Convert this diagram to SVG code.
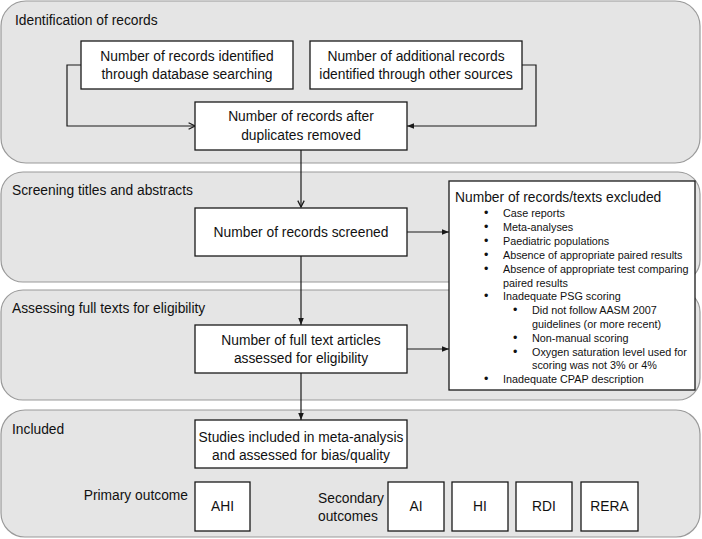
<svg xmlns="http://www.w3.org/2000/svg" width="702" height="539" viewBox="0 0 702 539">
<defs>
<style>
.panel{fill:#e5e5e5;stroke:#9a9a9a;stroke-width:1.2}
.box{fill:#ffffff;stroke:#1a1a1a;stroke-width:1.3}
.t{font-family:"Liberation Sans",Arial,sans-serif;font-size:13.8px;fill:#111}
.c{text-anchor:middle}
.l{font-family:"Liberation Sans",Arial,sans-serif;font-size:10.8px;fill:#111}
.b{font-size:12.5px}
.conn{fill:none;stroke:#1a1a1a;stroke-width:1.2}
</style>
<marker id="ah" viewBox="0 0 10 10" refX="10" refY="5" markerWidth="7" markerHeight="7" orient="auto" markerUnits="userSpaceOnUse">
<path d="M0,1 L10,5 L0,9 Z" fill="#1a1a1a"/>
</marker>
<marker id="av" viewBox="0 0 10 10" refX="9" refY="5" markerWidth="8" markerHeight="8" orient="auto" markerUnits="userSpaceOnUse">
<path d="M1,1 L9,5 L1,9" fill="none" stroke="#1a1a1a" stroke-width="1.6"/>
</marker>
</defs>

<g id="panel-identification">
<rect class="panel" x="1" y="1" width="699" height="162" rx="25"/>
<text class="t" x="15" y="25">Identification of records</text>
</g>
<g id="panel-screening">
<rect class="panel" x="1" y="172" width="699" height="110" rx="22"/>
<text class="t" x="12" y="195">Screening titles and abstracts</text>
</g>
<g id="panel-assessing">
<rect class="panel" x="1" y="290" width="699" height="110" rx="22"/>
<text class="t" x="12" y="313">Assessing full texts for eligibility</text>
</g>
<g id="panel-included">
<rect class="panel" x="1" y="410" width="699" height="127" rx="24"/>
<text class="t" x="12" y="434">Included</text>
<text class="t" x="188" y="500" text-anchor="end">Primary outcome</text>
<text class="t" x="318" y="503">Secondary</text>
<text class="t" x="318" y="521">outcomes</text>
</g>

<g id="connectors">
<path class="conn" d="M81,65 H67 V126 H195" marker-end="url(#av)"/>
<path class="conn" d="M522,65 H536 V126 H407" marker-end="url(#ah)"/>
<path class="conn" d="M301,150 V207" marker-end="url(#av)"/>
<path class="conn" d="M301,256 V325" marker-end="url(#ah)"/>
<path class="conn" d="M301,373 V420" marker-end="url(#ah)"/>
<path class="conn" d="M407,232 H449" marker-end="url(#ah)"/>
<path class="conn" d="M407,349 H449" marker-end="url(#ah)"/>
</g>

<g id="node-database">
<rect class="box" x="81" y="41" width="212" height="48"/>
<text class="t c" x="187" y="61">Number of records identified</text>
<text class="t c" x="187" y="79">through database searching</text>
</g>
<g id="node-other">
<rect class="box" x="310" y="41" width="212" height="48"/>
<text class="t c" x="416" y="61">Number of additional records</text>
<text class="t c" x="416" y="79">identified through other sources</text>
</g>
<g id="node-duplicates">
<rect class="box" x="195" y="102" width="212" height="48"/>
<text class="t c" x="301" y="121">Number of records after</text>
<text class="t c" x="301" y="140">duplicates removed</text>
</g>
<g id="node-screened">
<rect class="box" x="195" y="208" width="212" height="48"/>
<text class="t c" x="301" y="237">Number of records screened</text>
</g>
<g id="node-fulltext">
<rect class="box" x="195" y="325" width="212" height="48"/>
<text class="t c" x="301" y="345">Number of full text articles</text>
<text class="t c" x="301" y="363">assessed for eligibility</text>
</g>
<g id="node-included">
<rect class="box" x="195" y="420" width="212" height="48"/>
<text class="t c" x="301" y="442">Studies included in meta-analysis</text>
<text class="t c" x="301" y="460">and assessed for bias/quality</text>
</g>
<g id="node-ahi">
<rect class="box" x="195" y="482" width="55" height="49"/>
<text class="t c" x="222.5" y="511">AHI</text>
</g>
<g id="node-ai">
<rect class="box" x="388" y="482" width="56" height="49"/>
<text class="t c" x="416" y="511">AI</text>
</g>
<g id="node-hi">
<rect class="box" x="452" y="482" width="56" height="49"/>
<text class="t c" x="480" y="511">HI</text>
</g>
<g id="node-rdi">
<rect class="box" x="516" y="482" width="56" height="49"/>
<text class="t c" x="544" y="511">RDI</text>
</g>
<g id="node-rera">
<rect class="box" x="581" y="482" width="57" height="49"/>
<text class="t c" x="609.5" y="511">RERA</text>
</g>

<g id="node-excluded">
<rect class="box" x="449" y="181" width="246" height="209"/>
<text class="t" x="455" y="202">Number of records/texts excluded</text>
<g class="l">
<text class="b" x="484" y="217">•</text><text x="503" y="217">Case reports</text>
<text class="b" x="484" y="231">•</text><text x="503" y="231">Meta-analyses</text>
<text class="b" x="484" y="245">•</text><text x="503" y="245">Paediatric populations</text>
<text class="b" x="484" y="259">•</text><text x="503" y="259">Absence of appropriate paired results</text>
<text class="b" x="484" y="273">•</text><text x="503" y="273">Absence of appropriate test comparing</text>
<text x="503" y="287">paired results</text>
<text class="b" x="484" y="300">•</text><text x="503" y="300">Inadequate PSG scoring</text>
<text class="b" x="513" y="314">•</text><text x="532" y="314">Did not follow AASM 2007</text>
<text x="532" y="328">guidelines (or more recent)</text>
<text class="b" x="513" y="342">•</text><text x="532" y="342">Non-manual scoring</text>
<text class="b" x="513" y="356">•</text><text x="532" y="356">Oxygen saturation level used for</text>
<text x="532" y="369">scoring was not 3% or 4%</text>
<text class="b" x="484" y="383">•</text><text x="503" y="383">Inadequate CPAP description</text>
</g>
</g>
</svg>
